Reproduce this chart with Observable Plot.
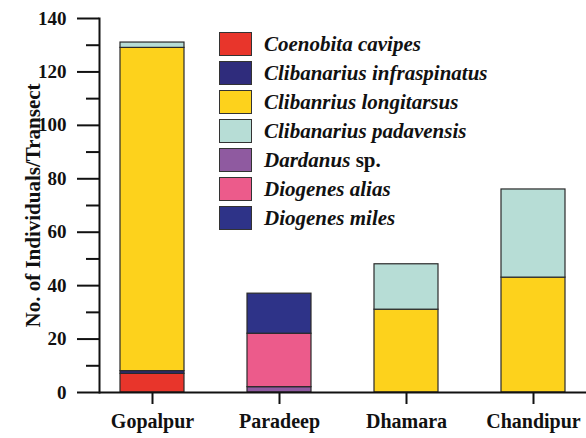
<!DOCTYPE html>
<html>
<head>
<meta charset="utf-8">
<script src="https://cdn.jsdelivr.net/npm/d3@7"></script>
<script src="https://cdn.jsdelivr.net/npm/@observablehq/plot@0.6"></script>
<style>
  body { margin: 0; background: #fff; }
  #wrap { position: relative; width: 586px; height: 438px; font-family: "Liberation Serif", "Times New Roman", serif; }
  #wrap svg text { font-family: "Liberation Serif", "Times New Roman", serif !important; font-weight: bold; }
  #legend { position: absolute; left: 219px; top: 32px; }
  .row { display: flex; align-items: center; height: 24px; margin-bottom: 5px; }
  .sw { width: 33px; height: 24px; border: 1px solid #333; box-sizing: border-box; margin-right: 12px; }
  .lab { font-size: 21px; font-weight: bold; font-style: italic; color: #111; white-space: nowrap; }
  .lab span { font-style: normal; }
</style>
</head>
<body>
<div id="wrap"></div>
<script>
const sites = ["Gopalpur", "Paradeep", "Dhamara", "Chandipur"];
const species = [
  "Coenobita cavipes",
  "Clibanarius infraspinatus",
  "Clibanrius longitarsus",
  "Clibanarius padavensis",
  "Dardanus sp.",
  "Diogenes alias",
  "Diogenes miles"
];
const colors = ["#e8352b", "#2f2c7c", "#fdd21c", "#b7ddd6", "#8f5aa0", "#ec5b8b", "#2e3388"];
const coenobitaCavipes = [7, 0, 0, 0];
const clibanariusInfraspinatus = [1, 0, 0, 0];
const clibanriusLongitarsus = [121, 0, 31, 43];
const clibanariusPadavensis = [2, 0, 17, 33];
const dardanusSp = [0, 2, 0, 0];
const diogenesAlias = [0, 20, 0, 0];
const diogenesMiles = [0, 15, 0, 0];
const yMajorTicks = [0, 20, 40, 60, 80, 100, 120, 140];
const yMinorTicks = [10, 30, 50, 70, 90, 110, 130];
const yTitle = "No. of Individuals/Transect";

const seriesValues = [coenobitaCavipes, clibanariusInfraspinatus, clibanriusLongitarsus,
  clibanariusPadavensis, dardanusSp, diogenesAlias, diogenesMiles];
const data = [];
sites.forEach((site, i) => {
  species.forEach((sp, j) => {
    const v = seriesValues[j][i];
    if (v > 0) data.push({site, species: sp, value: v});
  });
});

const font = "'Liberation Serif', 'Times New Roman', serif";
const chart = Plot.plot({
  width: 586,
  height: 438,
  marginLeft: 99,
  marginRight: 0,
  marginTop: 18,
  marginBottom: 46,
  style: {fontFamily: font, fontWeight: "bold", color: "#111", background: "white"},
  x: {domain: sites, paddingInner: 0.5, paddingOuter: 0.156, axis: null},
  y: {domain: [0, 140], axis: null},
  color: {domain: species, range: colors},
  marks: [
    Plot.barY(data, {x: "site", y: "value", fill: "species", stroke: "#2a2a2a", strokeWidth: 1.2}),
    Plot.axisX({tickSize: 12, tickPadding: 9, fontSize: 20, fontFamily: font, fontWeight: "bold", stroke: "#111", strokeWidth: 2, label: null}),
    Plot.axisY({ticks: yMajorTicks, tickSize: 22, tickPadding: 11, fontSize: 19, fontFamily: font, fontWeight: "bold", strokeWidth: 2, label: null}),
    Plot.axisY({ticks: yMinorTicks, tickSize: 13, text: null, strokeWidth: 2, label: null}),
    Plot.ruleY([0], {stroke: "#111", strokeWidth: 2}),
    Plot.frame({anchor: "left", stroke: "#111", strokeWidth: 2}),
    Plot.text([yTitle], {frameAnchor: "left", textAnchor: "middle", lineAnchor: "middle", rotate: -90, dx: -66, fontSize: 21, fontFamily: font, fontWeight: "bold", fill: "#111"})
  ]
});
const wrap = document.getElementById("wrap");
wrap.appendChild(chart);

const legend = document.createElement("div");
legend.id = "legend";
species.forEach((sp, j) => {
  const row = document.createElement("div");
  row.className = "row";
  const sw = document.createElement("div");
  sw.className = "sw";
  sw.style.background = colors[j];
  const lab = document.createElement("div");
  lab.className = "lab";
  if (sp.endsWith(" sp.")) {
    lab.innerHTML = sp.replace(" sp.", "") + " <span>sp.</span>";
  } else {
    lab.textContent = sp;
  }
  row.appendChild(sw);
  row.appendChild(lab);
  legend.appendChild(row);
});
wrap.appendChild(legend);
</script>
</body>
</html>
